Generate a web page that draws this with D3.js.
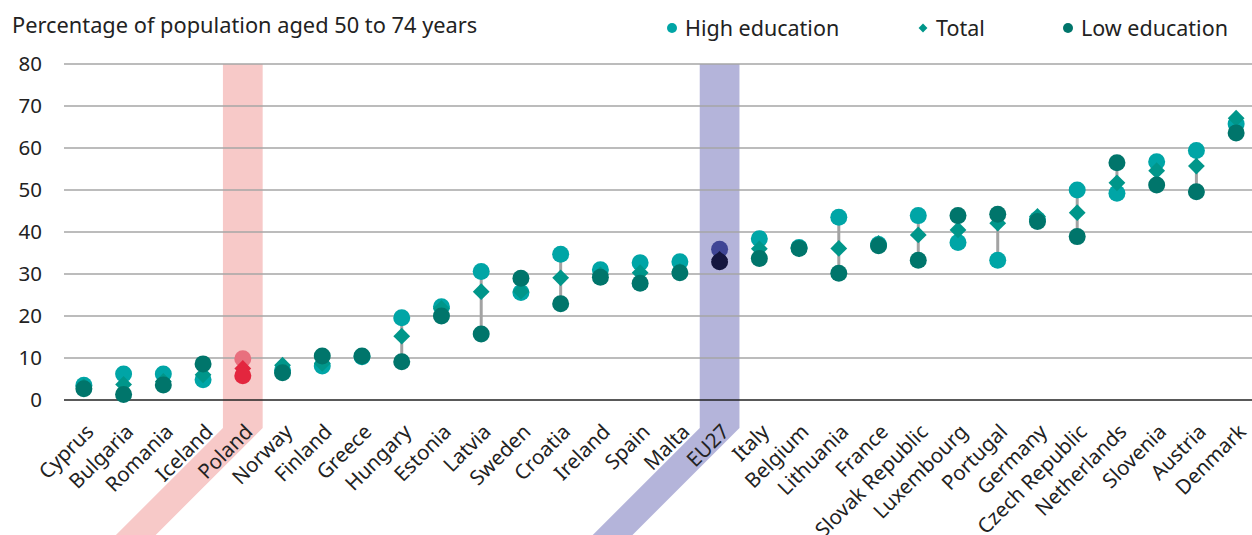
<!DOCTYPE html>
<html>
<head>
<meta charset="utf-8">
<script src="https://cdn.jsdelivr.net/npm/d3@7"></script>
<style>
  body { margin: 0; background: #fff; }
  svg { font-family: "Noto Sans", sans-serif; }
</style>
</head>
<body>
<div class="grafico"></div>
<script>
const width = 1252;
const height = 535;

// data
const countries = ["Cyprus", "Bulgaria", "Romania", "Iceland", "Poland", "Norway", "Finland",
    "Greece", "Hungary", "Estonia", "Latvia", "Sweden", "Croatia", "Ireland", "Spain", "Malta",
    "EU27", "Italy", "Belgium", "Lithuania", "France", "Slovak Republic", "Luxembourg",
    "Portugal", "Germany", "Czech Republic", "Netherlands", "Slovenia", "Austria", "Denmark"];
const highEdu = [3.5, 6.2, 6.2, 4.8, 9.8, 7.0, 8.1, 10.3, 19.6, 22.2, 30.6, 25.6, 34.7, 31.0,
    32.7, 32.9, 35.9, 38.4, 36.3, 43.5, 37.0, 43.9, 37.5, 33.3, 43.0, 50.0, 49.2, 56.7, 59.4, 65.7];
const total = [3.2, 3.7, 4.4, 6.0, 7.5, 8.3, 8.7, 10.3, 15.2, 21.8, 25.8, 25.9, 29.1, 29.8,
    30.3, 30.6, 33.5, 36.0, 36.0, 36.1, 37.3, 39.3, 40.5, 42.1, 43.7, 44.6, 51.7, 54.6, 55.7, 67.1];
const lowEdu = [2.7, 1.3, 3.6, 8.6, 5.8, 6.5, 10.5, 10.5, 9.1, 20.0, 15.7, 29.0, 22.9, 29.2,
    27.8, 30.3, 32.9, 33.7, 36.1, 30.2, 36.7, 33.3, 43.9, 44.2, 42.5, 38.9, 56.5, 51.2, 49.6, 63.6];
const yTicks = [0, 10, 20, 30, 40, 50, 60, 70, 80];
const highlights = ["Poland", "EU27"];

const rows = countries.map((c, i) => ({ country: c, high: highEdu[i], total: total[i], low: lowEdu[i] }));

// colours, with special ones for the highlighted bars
const colors = {
    default: { high: "#00a5a6", total: "#00968a", low: "#00756b", band: null },
    Poland: { high: "#e8707e", total: "#e3263e", low: "#e3263e", band: "#f7c9c8" },
    EU27: { high: "#3f4595", total: "#15163f", low: "#15163f", band: "#b4b4da" }
};
const col = (c) => colors[c] || colors.default;

const plotBottom = 400;

const x = d3.scaleBand()
    .domain(countries)
    .range([64, 1256])
    .padding(0);

const y = d3.scaleLinear()
    .domain([0, 80])
    .range([plotBottom, 64]);

const svg = d3.select(".grafico")
    .append("svg")
    .attr("width", width)
    .attr("height", height);

// highlight bands: vertical column and a slanted tail following the labels
const bw = x.bandwidth();
const bendY = 428;
svg.selectAll("path.band")
    .data(highlights)
    .enter().append("path")
    .attr("class", "band")
    .attr("fill", d => col(d).band)
    .attr("d", d => {
        const x0 = x(d), x1 = x(d) + bw;
        const drop = height - bendY;
        return `M${x0},${y(80)}L${x1},${y(80)}L${x1},${bendY}L${x1 - drop},${height}` +
            `L${x0 - drop},${height}L${x0},${bendY}Z`;
    });

// gridlines
svg.append("g")
    .selectAll("line")
    .data(yTicks.filter(t => t > 0))
    .enter().append("line")
    .attr("x1", 64)
    .attr("x2", width)
    .attr("y1", d => y(d))
    .attr("y2", d => y(d))
    .attr("stroke", "#a6a6a6")
    .attr("stroke-width", 1.5);

svg.append("line")
    .attr("x1", 64)
    .attr("x2", width)
    .attr("y1", y(0))
    .attr("y2", y(0))
    .attr("stroke", "#222")
    .attr("stroke-width", 1.5);

// y axis labels
svg.append("g")
    .selectAll("text")
    .data(yTicks)
    .enter().append("text")
    .attr("x", 42)
    .attr("y", d => y(d))
    .attr("dy", "0.36em")
    .attr("text-anchor", "end")
    .attr("font-size", 20.5)
    .attr("fill", "#222")
    .text(d => d);

// x labels, rotated
svg.append("g")
    .selectAll("text")
    .data(countries)
    .enter().append("text")
    .attr("transform", d => `translate(${x(d) + bw / 2 + 11},${433}) rotate(-45)`)
    .attr("text-anchor", "end")
    .attr("font-size", 20.5)
    .attr("fill", "#222")
    .text(d => d);

// connectors
const cx = d => x(d.country) + bw / 2;
svg.append("g")
    .selectAll("line")
    .data(rows)
    .enter().append("line")
    .attr("x1", cx)
    .attr("x2", cx)
    .attr("y1", d => y(d.high))
    .attr("y2", d => y(d.low))
    .attr("stroke", "#a3a3a3")
    .attr("stroke-width", 3);

const diamond = d3.symbol().type(d3.symbolDiamond2).size(180);

// high education
svg.append("g")
    .selectAll("circle")
    .data(rows)
    .enter().append("circle")
    .attr("cx", cx)
    .attr("cy", d => y(d.high))
    .attr("r", 8.5)
    .attr("fill", d => col(d.country).high);

// total
svg.append("g")
    .selectAll("path")
    .data(rows)
    .enter().append("path")
    .attr("d", diamond)
    .attr("transform", d => `translate(${cx(d)},${y(d.total)})`)
    .attr("fill", d => col(d.country).total);

// low education
svg.append("g")
    .selectAll("circle")
    .data(rows)
    .enter().append("circle")
    .attr("cx", cx)
    .attr("cy", d => y(d.low))
    .attr("r", 8.5)
    .attr("fill", d => col(d.country).low);

// title
svg.append("text")
    .attr("x", 12)
    .attr("y", 33)
    .attr("font-size", 21.8)
    .attr("fill", "#222")
    .text("Percentage of population aged 50 to 74 years");

// legend
const legend = [
    { label: "High education", shape: "circle", color: colors.default.high, x: 672 },
    { label: "Total", shape: "diamond", color: colors.default.total, x: 923 },
    { label: "Low education", shape: "circle", color: colors.default.low, x: 1068 }
];
const lg = svg.append("g")
    .selectAll("g")
    .data(legend)
    .enter().append("g")
    .attr("transform", d => `translate(${d.x},28)`);

lg.each(function (d) {
    const g = d3.select(this);
    if (d.shape === "circle") {
        g.append("circle").attr("r", 5).attr("fill", d.color);
    } else {
        g.append("path").attr("d", d3.symbol().type(d3.symbolDiamond2).size(50)).attr("fill", d.color);
    }
    g.append("text")
        .attr("x", 13)
        .attr("dy", "0.36em")
        .attr("font-size", 21.5)
        .attr("fill", "#222")
        .text(d.label);
});
</script>
</body>
</html>
